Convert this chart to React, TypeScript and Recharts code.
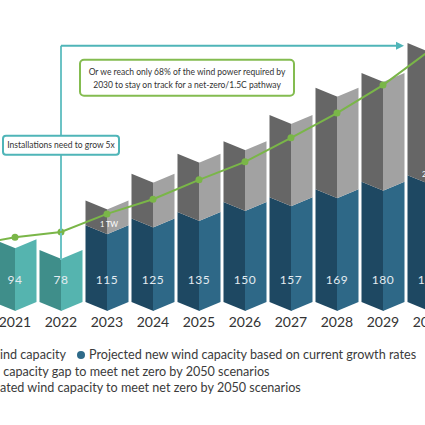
import React from 'react';
import {
  ComposedChart,
  Bar,
  Line,
  XAxis,
  YAxis,
  Legend,
  LabelList,
  ReferenceLine,
  ReferenceDot,
} from 'recharts';

// GW per year
const years = ['2020', '2021', '2022', '2023', '2024', '2025', '2026', '2027', '2028', '2029', '2030'];
const installed = [93, 94, 78, 0, 0, 0, 0, 0, 0, 0, 0];
const projected = [0, 0, 0, 115, 125, 135, 150, 157, 169, 180, 190];
const capacityGap = [0, 0, 0, 37, 67, 87, 91, 123, 152, 163, 198];
const netZeroPath = [84, 97, 105, 132, 154, 183, 210, 246, 283, 325, 376];
const milestones = ['', '', '', '1 TW', '', '', '', '', '', '', '2 TW'];

const data = years.map((year, i) => ({
  year,
  installed: installed[i],
  projected: projected[i],
  gap: capacityGap[i],
  path: netZeroPath[i],
  milestone: milestones[i],
}));

const FONT = 'Lato, "Open Sans", sans-serif';
const TEAL = '#4fb5b8';
const GREEN = '#7ab648';
const FOLD = 9;

// folded "paper" column: two parallelograms meeting in the middle
const foldShape = (left: string, right: string) => (props: any) => {
  const { x, y, width, height } = props;
  if (!height || height < 0.5) return <g />;
  const xm = x + width / 2;
  const x2 = x + width;
  const b = y + height;
  return (
    <g>
      <polygon points={`${x},${y} ${xm + 0.5},${y + FOLD} ${xm + 0.5},${b + FOLD} ${x},${b}`} fill={left} />
      <polygon points={`${xm},${y + FOLD} ${x2},${y} ${x2},${b} ${xm},${b + FOLD}`} fill={right} />
    </g>
  );
};

const ValueLabel = (props: any) => {
  const vb = props.viewBox ?? props;
  if (!props.value) return null;
  return (
    <text
      x={vb.x + vb.width / 2}
      y={vb.y + vb.height - 23}
      textAnchor="middle"
      dominantBaseline="central"
      fill="#e3ebf0"
      fontSize={12}
      fontFamily={FONT}
      letterSpacing={0.5}
    >
      {props.value}
    </text>
  );
};

const MilestoneLabel = (props: any) => {
  const vb = props.viewBox ?? props;
  if (!props.value) return null;
  return (
    <text
      x={vb.x + vb.width / 2 + 2}
      y={vb.y + vb.height - 1}
      textAnchor="middle"
      dominantBaseline="central"
      fill="#ffffff"
      fontSize={7.5}
      fontFamily={FONT}
    >
      {props.value}
    </text>
  );
};

const YearTick = (props: any) => (
  <text x={props.x} y={props.y + 25} textAnchor="middle" fontSize={14} fontFamily={FONT} fill="#333">
    {props.payload.value}
  </text>
);

const ArrowLine = (props: any) => {
  const { x1, y1, x2 } = props;
  const tip = x2 - 25;
  return (
    <g>
      <line x1={x1} y1={y1} x2={tip - 6} y2={y1} stroke={TEAL} strokeWidth={2} />
      <polygon points={`${tip - 8},${y1 - 4} ${tip},${y1} ${tip - 8},${y1 + 4}`} fill={TEAL} />
    </g>
  );
};

const GrowBox = (props: any) => {
  const { cx, cy } = props;
  return (
    <g>
      <rect x={cx - 58} y={cy - 9.5} width={116} height={19} rx={3} fill="#fff" stroke={TEAL} strokeWidth={2} />
      <text x={cx} y={cy} textAnchor="middle" dominantBaseline="central" fontSize={8.5} fontFamily={FONT} fill="#333">
        Installations need to grow 5x
      </text>
    </g>
  );
};

const ShortfallBox = (props: any) => {
  const { cx, cy } = props;
  const mid = cx - 12;
  return (
    <g>
      <rect x={mid - 107} y={cy - 18} width={214} height={36} rx={4} fill="#fff" stroke="#84bc50" strokeWidth={2} />
      <text x={mid} y={cy - 6} textAnchor="middle" dominantBaseline="central" fontSize={8.5} fontFamily={FONT} fill="#333">
        Or we reach only 68% of the wind power required by
      </text>
      <text x={mid} y={cy + 7} textAnchor="middle" dominantBaseline="central" fontSize={8.5} fontFamily={FONT} fill="#333">
        2030 to stay on track for a net-zero/1.5C pathway
      </text>
    </g>
  );
};

const Dot = ({ color }: { color: string }) => (
  <span
    style={{
      display: 'inline-block',
      width: 8,
      height: 8,
      borderRadius: '50%',
      background: color,
      margin: '0 4px 0 0',
      verticalAlign: 'middle',
      position: 'relative',
      top: -1,
    }}
  />
);

// the left part of each row is cut off by the frame, so it hangs left of the visible start
const WindLegend = () => (
  <div style={{ position: 'relative', height: 50, fontFamily: FONT, fontSize: 12.6, color: '#3b3b3b', lineHeight: '16px' }}>
    <div style={{ position: 'absolute', left: 54, top: 0, whiteSpace: 'nowrap' }}>
      <span style={{ position: 'absolute', right: '100%', top: 0 }}>
        <Dot color="#4aa9a4" />
        Installed w
      </span>
      ind capacity
      <span style={{ marginLeft: 11 }} />
      <Dot color="#2e6a89" />
      Projected new wind capacity based on current growth rates
    </div>
    <div style={{ position: 'absolute', left: 54, top: 17, whiteSpace: 'nowrap' }}>
      <span style={{ position: 'absolute', right: '100%', top: 0 }}>
        <Dot color="#a0a0a0" />
        Wind
      </span>
      &nbsp;capacity gap to meet net zero by 2050 scenarios
    </div>
    <div style={{ position: 'absolute', left: 54, top: 33, whiteSpace: 'nowrap' }}>
      <span style={{ position: 'absolute', right: '100%', top: 0 }}>
        <Dot color={GREEN} />
        Estim
      </span>
      ated wind capacity to meet net zero by 2050 scenarios
    </div>
  </div>
);

const front = { isFront: true, zIndex: 650 } as any;

export default function App() {
  return (
    <div style={{ position: 'fixed', left: 0, top: 0, width: 425, height: 425, overflow: 'hidden', background: '#fff' }}>
      <div style={{ position: 'absolute', left: -54, top: 0 }}>
        <ComposedChart width={506} height={425} data={data} margin={{ top: 35, right: 0, bottom: 28, left: 0 }} barCategoryGap={1.5}>
          <XAxis dataKey="year" axisLine={false} tickLine={false} tickSize={0} tickMargin={0} height={45} interval={0} tick={<YearTick />} />
          <YAxis hide domain={[0, 400]} />
          <Legend verticalAlign="bottom" content={<WindLegend />} />
          <Bar dataKey="installed" stackId="w" shape={foldShape('#3f8e8a', '#55b4af')} isAnimationActive={false}>
            <LabelList dataKey="installed" content={<ValueLabel />} />
          </Bar>
          <Bar dataKey="projected" stackId="w" shape={foldShape('#1e4862', '#2e6887')} isAnimationActive={false}>
            <LabelList dataKey="projected" content={<ValueLabel />} />
          </Bar>
          <Bar dataKey="gap" stackId="w" shape={foldShape('#666666', '#a2a2a2')} isAnimationActive={false}>
            <LabelList dataKey="milestone" content={<MilestoneLabel />} />
          </Bar>
          <ReferenceLine
            segment={[{ x: '2022', y: 63 }, { x: '2022', y: 384 }]}
            stroke="#6cc3c5"
            strokeWidth={2}
            {...front}
          />
          <ReferenceLine segment={[{ x: '2022', y: 384 }, { x: '2030', y: 384 }]} shape={ArrowLine} {...front} />
          <Line
            dataKey="path"
            type="linear"
            stroke={GREEN}
            strokeWidth={2}
            dot={{ r: 3.5, fill: GREEN, stroke: 'none' }}
            isAnimationActive={false}
            {...({ zIndex: 700 } as any)}
          />
          <ReferenceDot x="2022" y={235} shape={GrowBox} {...front} />
          <ReferenceDot x="2025" y={336} shape={ShortfallBox} {...front} />
        </ComposedChart>
      </div>
    </div>
  );
}
